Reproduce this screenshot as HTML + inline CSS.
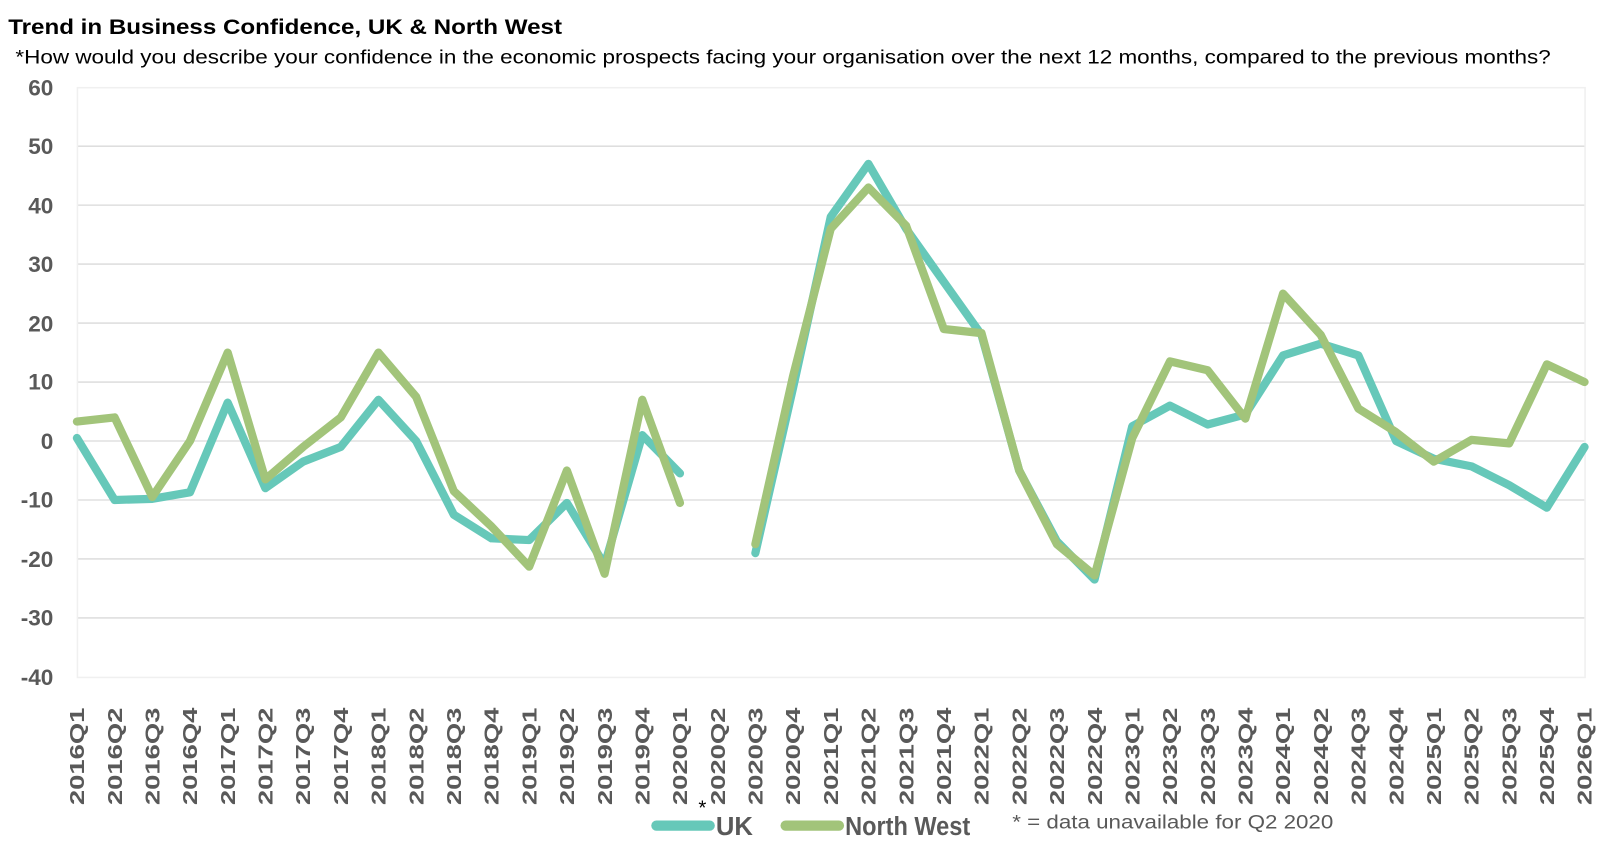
<!DOCTYPE html>
<html><head><meta charset="utf-8"><style>
body{margin:0;background:#fff}
svg{display:block;font-family:"Liberation Sans",sans-serif}
.yl{font-size:22px;font-weight:bold;fill:#595959;text-anchor:end}
.xl{font-size:20px;font-weight:bold;fill:#595959;text-anchor:end}
</style></head><body>
<svg width="1600" height="860" viewBox="0 0 1600 860">
<g transform="scale(1.0256)">
<text x="8" y="33" font-size="21" font-weight="bold" fill="#000" textLength="540" lengthAdjust="spacingAndGlyphs">Trend in Business Confidence, UK &amp; North West</text>
<text x="15" y="62" font-size="19" fill="#000" textLength="1497" lengthAdjust="spacingAndGlyphs">*How would you describe your confidence in the economic prospects facing your organisation over the next 12 months, compared to the previous months?</text>
<g stroke="#d9d9d9" stroke-width="1.3">
<line x1="75" x2="1545" y1="142.5" y2="142.5"/><line x1="75" x2="1545" y1="200" y2="200"/>
<line x1="75" x2="1545" y1="257.5" y2="257.5"/><line x1="75" x2="1545" y1="315" y2="315"/>
<line x1="75" x2="1545" y1="372.5" y2="372.5"/><line x1="75" x2="1545" y1="430" y2="430"/>
<line x1="75" x2="1545" y1="487.5" y2="487.5"/><line x1="75" x2="1545" y1="545" y2="545"/>
<line x1="75" x2="1545" y1="602.5" y2="602.5"/>
</g>
<rect x="75.5" y="85.5" width="1470" height="575" fill="none" stroke="#f0f0f0" stroke-width="1.5"/>
<g class="yl">
<text x="52" y="93">60</text><text x="52" y="150">50</text><text x="52" y="208">40</text>
<text x="52" y="265">30</text><text x="52" y="323">20</text><text x="52" y="380">10</text>
<text x="52" y="438">0</text><text x="52" y="495">-10</text><text x="52" y="553">-20</text>
<text x="52" y="610">-30</text><text x="52" y="668">-40</text>
</g>
<g class="xl" id="xl"></g>
<g fill="none" stroke-width="8" stroke-linejoin="round" stroke-linecap="round">
<polyline stroke="#66c8b9" points="75,427.1 111.75,487.5 148.5,486.4 185.25,480 222,392.6 258.75,476 295.5,450.1 332.25,435.8 369,389.8 405.75,430 442.5,501.9 479.25,524.9 516,526.6 552.75,490.4 589.5,550.8 626.25,424.3 663,461.6"/>
<polyline stroke="#66c8b9" points="736.5,539.3 773.25,378.3 810,211.5 846.75,159.8 883.5,223 920.25,274.8 957,326.5 993.75,458.8 1030.5,527.8 1067.25,565.1 1104,415.6 1140.75,395.5 1177.5,413.9 1214.25,404.1 1251,346.6 1287.75,335.1 1324.5,346.6 1361.25,430 1398,447.3 1434.75,454.7 1471.5,473.1 1508.25,495 1545,435.8"/>
<polyline stroke="#a2c47a" points="75,411 111.75,407 148.5,484.6 185.25,430 222,343.8 258.75,467.4 295.5,435.8 332.25,407 369,343.8 405.75,386.9 442.5,478.9 479.25,513.4 516,552.5 552.75,458.8 589.5,559.4 626.25,389.8 663,490.4"/>
<polyline stroke="#a2c47a" points="736.5,530.6 773.25,366.8 810,223 846.75,182.8 883.5,220.1 920.25,320.8 957,324.8 993.75,458.8 1030.5,530.6 1067.25,561.1 1104,427.1 1140.75,352.4 1177.5,361 1214.25,408.2 1251,286.3 1287.75,326.5 1324.5,398.4 1361.25,421.4 1398,450.1 1434.75,428.9 1471.5,432.3 1508.25,355.3 1545,372.5"/>
</g>
<text x="681" y="794" font-size="20" fill="#000">*</text>
<line x1="640" y1="805" x2="692" y2="805" stroke="#66c8b9" stroke-width="10" stroke-linecap="round"/>
<text x="698" y="814" font-size="25" font-weight="bold" fill="#595959">UK</text>
<line x1="766" y1="805" x2="818" y2="805" stroke="#a2c47a" stroke-width="10" stroke-linecap="round"/>
<text x="824" y="814" font-size="25" font-weight="bold" fill="#595959" textLength="122" lengthAdjust="spacingAndGlyphs">North West</text>
<text x="987" y="808" font-size="19" fill="#595959" textLength="313" lengthAdjust="spacingAndGlyphs">* = data unavailable for Q2 2020</text>
</g>
</svg>
<script>
var g=document.getElementById('xl'),s='';
for(var i=0;i<41;i++){var y=2016+Math.floor(i/4),q=i%4+1,x=75+i*36.75+7;
s+='<text transform="translate('+x+',690) rotate(-90)" textLength="95" lengthAdjust="spacingAndGlyphs">'+y+'Q'+q+'</text>';}
g.innerHTML=s;
</script>
</body></html>
